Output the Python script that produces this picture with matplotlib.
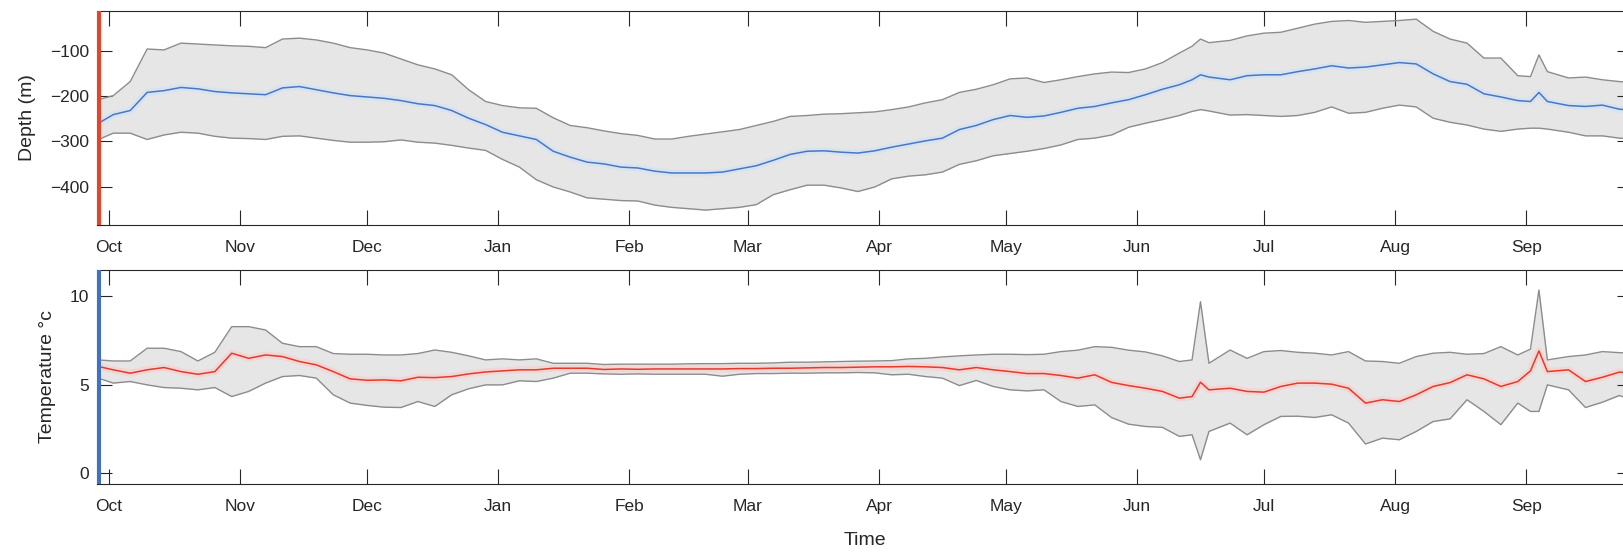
import numpy as np
import pandas as pd
import matplotlib
matplotlib.use("Agg")
import matplotlib.pyplot as plt
import matplotlib.dates as mdates

plt.rcParams["font.family"] = ["Liberation Sans", "DejaVu Sans"]

TEXT = "#262626"

# sample days, counted from 1 Oct 2018
days = [-2.5, 1, 5, 9, 13, 17, 21, 25, 29, 33, 37, 41, 45, 49, 53, 57, 61, 65, 69, 73,
        77, 81, 85, 89, 93, 97, 101, 105, 109, 113, 117, 121, 125, 129, 133, 137, 141, 145,
        149, 153, 157, 161, 165, 169, 173, 177, 181, 185, 189, 193, 197, 201, 205, 209, 213,
        217, 221, 225, 229, 233, 237, 241, 245, 249, 253, 256, 258, 260, 265, 269, 273, 277,
        281, 285, 289, 293, 297, 301, 305, 309, 313, 317, 321, 325, 329, 333, 336, 338, 340,
        345, 349, 353, 357, 361]

# depth (m)
depth_upper = [-208, -199, -168, -96, -98, -83, -85, -87, -89, -90,
               -93, -74, -72, -76, -83, -93, -98, -105, -118, -131,
               -140, -153, -186, -212, -221, -226, -227, -248, -265, -270,
               -277, -283, -287, -295, -295, -289, -284, -279, -274, -265,
               -256, -245, -243, -240, -239, -237, -235, -230, -224, -215,
               -208, -192, -185, -175, -162, -160, -170, -164, -157, -151,
               -147, -148, -140, -126, -105,
               -90, -74, -82,
               -77, -67, -61, -59, -50, -41, -35, -33, -37, -35, -33, -30, -57, -74, -83, -116, -116, -155,
               -157, -109, -146, -160, -158, -164, -168, -170]
depth_mean = [-260, -241, -232, -192, -188, -181, -184, -190, -193, -195,
              -197, -182, -179, -186, -193, -199, -202, -205, -210, -217,
              -221, -232, -249, -263, -280, -288, -296, -322, -335, -346,
              -350, -357, -359, -366, -370, -370, -370, -368, -361, -354,
              -342, -329, -322, -321, -324, -326, -321, -313, -306, -299,
              -293, -274, -265, -252, -243, -247, -244, -236, -227, -223,
              -215, -208, -197, -185, -175,
              -164, -153, -158,
              -164, -155, -153, -153, -146, -140, -133, -138, -136, -131, -126, -129, -151, -168, -174, -195, -202, -210,
              -212, -192, -212, -221, -223, -220, -229, -232]
depth_lower = [-296, -282, -282, -296, -286, -280, -282, -289, -293, -294,
               -296, -289, -288, -293, -298, -302, -302, -301, -297, -302,
               -304, -309, -315, -320, -340, -357, -385, -401, -412, -425,
               -428, -431, -432, -441, -446, -449, -452, -449, -446, -440,
               -418, -407, -397, -397, -403, -411, -401, -383, -377, -374,
               -368, -351, -343, -332, -327, -322, -316, -308, -296, -293,
               -286, -269, -260, -252, -243,
               -234, -230, -233,
               -242, -241, -243, -245, -243, -236, -224, -238, -236, -227, -220, -224, -249, -258, -264, -273, -278, -273,
               -271, -271, -273, -280, -288, -288, -293, -296]

# temperature (deg C)
temp_upper = [6.39, 6.33, 6.33, 7.05, 7.05, 6.86, 6.33, 6.82, 8.27, 8.27,
              8.08, 7.33, 7.14, 7.14, 6.75, 6.71, 6.71, 6.67, 6.67, 6.75,
              6.95, 6.82, 6.62, 6.39, 6.45, 6.39, 6.45, 6.20, 6.20, 6.20,
              6.13, 6.15, 6.15, 6.15, 6.15, 6.17, 6.18, 6.18, 6.20, 6.20,
              6.22, 6.26, 6.26, 6.28, 6.30, 6.32, 6.33, 6.35, 6.45, 6.48,
              6.56, 6.62, 6.67, 6.71, 6.71, 6.69, 6.71, 6.86, 6.94, 7.14,
              7.10, 6.94, 6.84, 6.62, 6.30,
              6.39, 9.68, 6.20,
              6.95, 6.48, 6.86, 6.92, 6.82, 6.77, 6.67, 6.86, 6.33, 6.30, 6.20, 6.58, 6.77, 6.82, 6.71, 6.75, 7.14, 6.67,
              7.00, 10.34, 6.39, 6.58, 6.67, 6.86, 6.80, 6.77]
temp_mean = [6.02, 5.83, 5.64, 5.83, 5.96, 5.73, 5.58, 5.73, 6.77, 6.48,
             6.67, 6.58, 6.30, 6.11, 5.73, 5.32, 5.24, 5.26, 5.21, 5.41,
             5.39, 5.45, 5.60, 5.71, 5.77, 5.83, 5.83, 5.92, 5.92, 5.92,
             5.85, 5.88, 5.86, 5.88, 5.88, 5.88, 5.88, 5.88, 5.90, 5.90,
             5.92, 5.92, 5.94, 5.96, 5.96, 5.98, 6.00, 6.00, 6.02, 6.00,
             5.96, 5.83, 5.96, 5.83, 5.73, 5.62, 5.62, 5.51, 5.36, 5.55,
             5.12, 4.94, 4.79, 4.61, 4.23,
             4.32, 5.13, 4.70,
             4.79, 4.61, 4.57, 4.89, 5.08, 5.08, 5.02, 4.79, 3.95, 4.14, 4.04, 4.42, 4.89, 5.11, 5.55, 5.32, 4.89, 5.17,
             5.77, 6.90, 5.73, 5.83, 5.17, 5.41, 5.70, 5.64]
temp_lower = [5.36, 5.08, 5.17, 4.98, 4.83, 4.79, 4.70, 4.83, 4.32, 4.61,
              5.08, 5.45, 5.51, 5.36, 4.42, 3.95, 3.82, 3.72, 3.70, 4.04,
              3.76, 4.42, 4.76, 4.98, 4.98, 5.21, 5.17, 5.36, 5.64, 5.64,
              5.60, 5.58, 5.60, 5.58, 5.58, 5.58, 5.58, 5.47, 5.58, 5.62,
              5.62, 5.64, 5.64, 5.66, 5.66, 5.68, 5.66, 5.55, 5.58, 5.45,
              5.36, 4.94, 5.23, 4.89, 4.70, 4.64, 4.70, 4.04, 3.76, 3.85,
              3.13, 2.76, 2.63, 2.58, 2.07,
              2.16, 0.75, 2.35,
              2.82, 2.16, 2.73, 3.20, 3.21, 3.14, 3.29, 2.82, 1.64, 1.97, 1.88, 2.35, 2.91, 3.06, 4.14, 3.48, 2.73, 3.95,
              3.48, 3.48, 4.98, 4.70, 3.70, 4.00, 4.38, 4.04]

depth_ticks = [-400, -300, -200, -100]
temp_ticks = [0, 5, 10]

start = pd.Timestamp("2018-10-01")
dates = start + pd.to_timedelta(days, unit="D")
x_lo = start + pd.Timedelta(days=-2.85)
x_hi = start + pd.Timedelta(days=360)


def style_axis(ax):
    for s in ax.spines.values():
        s.set_color(TEXT)
        s.set_linewidth(0.8)
    ax.tick_params(which="both", direction="in", top=True, right=True, length=10.5,
                   width=0.8, colors=TEXT, labelsize=12.5)
    ax.tick_params(axis="x", pad=11)
    ax.tick_params(axis="y", pad=5.5)
    ax.xaxis.set_major_locator(mdates.MonthLocator())
    ax.xaxis.set_major_formatter(mdates.DateFormatter("%b"))
    ax.set_xlim(x_lo, x_hi)


def band_plot(ax, lower, mean, upper, line_color, halo_color, bar_color):
    ax.fill_between(dates, lower, upper, color="#e6e6e6", linewidth=0, zorder=1)
    ax.plot(dates, upper, color="#8c8c8c", lw=1.0, zorder=2)
    ax.plot(dates, lower, color="#8c8c8c", lw=1.0, zorder=2)
    ax.plot(dates, mean, color=halo_color, lw=5, alpha=0.8, zorder=3)
    ax.plot(dates, mean, color=line_color, lw=1.1, zorder=4)
    ax.axvline(dates[0], color=bar_color, lw=3.6, zorder=5)


fig = plt.figure(figsize=(16.24, 5.54), dpi=100)
ax1 = fig.add_axes([97 / 1624, (554 - 225) / 554, 1535 / 1624, 214 / 554])
ax2 = fig.add_axes([97 / 1624, (554 - 484) / 554, 1535 / 1624, 214 / 554])

band_plot(ax1, depth_lower, depth_mean, depth_upper, "#4a78c0", "#d4e3f5", "#e2452a")
style_axis(ax1)
ax1.set_ylim(-485, -12)
ax1.set_yticks(depth_ticks)
ax1.set_ylabel("Depth (m)", fontsize=14, color=TEXT, labelpad=10)

band_plot(ax2, temp_lower, temp_mean, temp_upper, "#e43a2f", "#f5d2cf", "#3f72c2")
style_axis(ax2)
ax2.set_ylim(-0.62, 11.47)
ax2.set_yticks(temp_ticks)
ax2.set_ylabel("Temperature °c", fontsize=14, color=TEXT, labelpad=10)
ax2.set_xlabel("Time", fontsize=14, color=TEXT, labelpad=13)

fig.savefig("out.png", dpi=100)
